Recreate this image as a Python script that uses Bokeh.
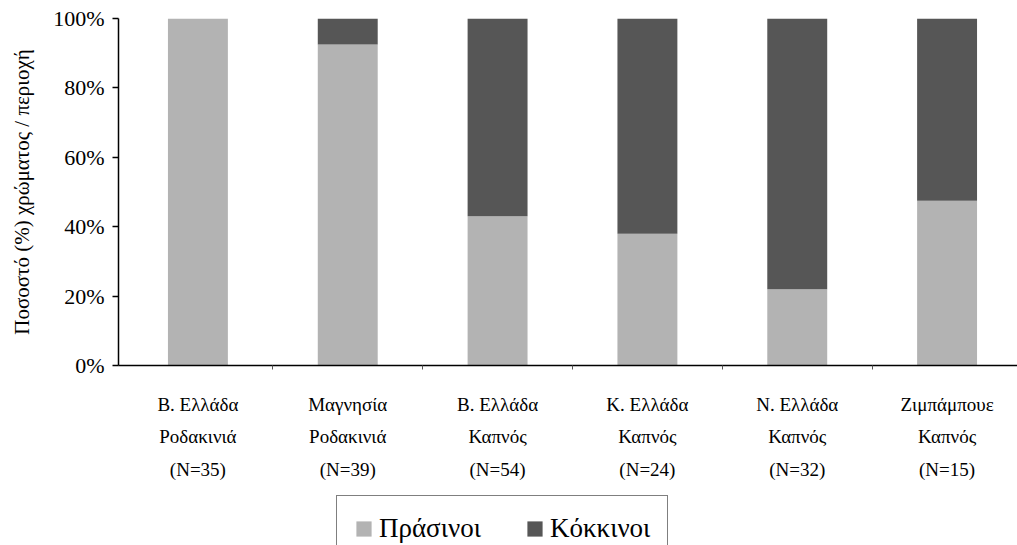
from bokeh.plotting import figure
from bokeh.layouts import column
from bokeh.models import (ColumnDataSource, Range1d, LinearAxis, FixedTicker,
                          NumeralTickFormatter, Legend, LegendItem)
from bokeh.embed import file_html
from bokeh.resources import INLINE

# Share (%) of green and red colour per region / host crop
regions = ["Β. Ελλάδα\nΡοδακινιά\n(N=35)",
           "Μαγνησία\nΡοδακινιά\n(N=39)",
           "Β. Ελλάδα\nΚαπνός\n(N=54)",
           "Κ. Ελλάδα\nΚαπνός\n(N=24)",
           "Ν. Ελλάδα\nΚαπνός\n(N=32)",
           "Ζιμπάμπουε\nΚαπνός\n(N=15)"]
series = ["Πράσινοι", "Κόκκινοι"]
green_pct = [100.0, 92.5, 43.0, 38.0, 22.0, 47.5]
red_pct = [0.0, 7.5, 57.0, 62.0, 78.0, 52.5]
y_ticks = [0, 0.2, 0.4, 0.6, 0.8, 1.0]

GREEN_COL = "#b3b3b3"
RED_COL = "#565656"
FONT = "'Liberation Serif', 'Times New Roman', serif"

pos = [i + 0.5 for i in range(len(regions))]
src = ColumnDataSource(dict(
    x=pos,
    green=[v / 100 for v in green_pct],
    red=[v / 100 for v in red_pct],
))

# ---- main chart ----
p = figure(width=1017, height=490, output_backend="svg", toolbar_location=None,
           x_range=Range1d(-0.03, 5.97), y_range=Range1d(0, 1),
           x_axis_location=None, y_axis_location=None,
           min_border_left=118, min_border_right=0, min_border_top=18,
           min_border_bottom=125)
p.outline_line_color = None
p.xgrid.visible = False
p.ygrid.visible = False
p.background_fill_color = "white"
p.border_fill_color = "white"

p.vbar_stack(["green", "red"], x="x", width=0.4, source=src,
             color=[GREEN_COL, RED_COL], line_color=None)

yax = LinearAxis(ticker=FixedTicker(ticks=y_ticks, minor_ticks=[]),
                 formatter=NumeralTickFormatter(format="0%"),
                 axis_label="Ποσοστό (%) χρώματος / περιοχή")
yax.axis_line_color = "black"
yax.axis_line_width = 1.5
yax.major_tick_in = 0
yax.major_tick_out = 6
yax.major_tick_line_width = 1.5
yax.major_label_text_font = FONT
yax.major_label_text_font_size = "22px"
yax.major_label_text_color = "black"
yax.major_label_standoff = 8
yax.axis_label_text_font = FONT
yax.axis_label_text_font_size = "21px"
yax.axis_label_text_font_style = "normal"
yax.axis_label_text_color = "black"
yax.axis_label_standoff = 16
p.add_layout(yax, "left")

# x axis: labels at bar centres, small ticks between categories
xax = LinearAxis(ticker=FixedTicker(ticks=pos, minor_ticks=[1, 2, 3, 4, 5]))
xax.major_label_overrides = {x: lab for x, lab in zip(pos, regions)}
xax.axis_line_color = "black"
xax.axis_line_width = 1.5
xax.major_tick_line_color = None
xax.minor_tick_in = 0
xax.minor_tick_out = 4
xax.minor_tick_line_color = "#555555"
xax.major_label_text_font = FONT
xax.major_label_text_font_size = "19px"
xax.major_label_text_color = "black"
xax.major_label_text_line_height = 1.55
xax.major_label_standoff = 22
p.add_layout(xax, "below")

# ---- legend strip underneath (hidden copies of the bars supply the swatches) ----
lp = figure(width=1017, height=55, output_backend="svg", toolbar_location=None,
            x_range=Range1d(-0.03, 5.97), y_range=Range1d(0, 1),
            x_axis_location=None, y_axis_location=None, min_border=0)
lp.outline_line_color = None
lp.xgrid.visible = False
lp.ygrid.visible = False
sw = lp.vbar_stack(["green", "red"], x="x", width=0.4, source=src,
                   color=[GREEN_COL, RED_COL], line_color=None, visible=False)

legend = Legend(items=[LegendItem(label=series[0], renderers=[sw[0]]),
                       LegendItem(label=series[1], renderers=[sw[1]])],
                orientation="horizontal", location=(218, -17))
legend.label_text_font = FONT
legend.label_text_font_size = "27px"
legend.label_text_color = "black"
legend.glyph_width = 19
legend.glyph_height = 19
legend.label_standoff = 6
legend.spacing = 44
legend.padding = 17
legend.margin = 0
legend.border_line_color = "black"
legend.border_line_width = 1.5
legend.background_fill_alpha = 1
legend.inactive_fill_alpha = 0
lp.add_layout(legend, "center")

open("out.html", "w").write(file_html(column(p, lp), INLINE))
